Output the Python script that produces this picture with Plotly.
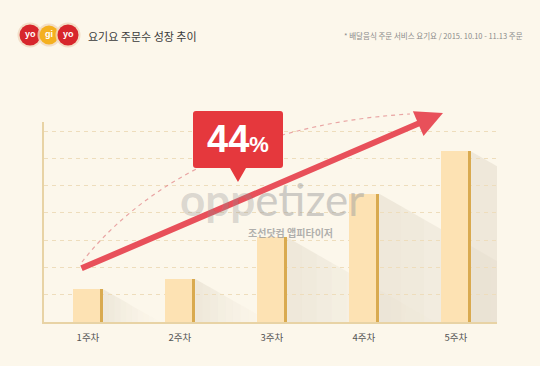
import plotly.graph_objects as go

# ---- data ----
categories = ["1주차", "2주차", "3주차", "4주차", "5주차"]
orders = [1.2, 1.58, 3.1, 4.7, 6.25]
growth_label = "44"
title_text = "요기요 주문수 성장 추이"
source_text = "* 배달음식 주문 서비스 요기요 / 2015. 10.10 - 11.13 주문"

W, H = 540, 366
BG = "#FCF7EB"
KR = "Noto Sans CJK KR"

def P(px, py):
    return px / W, 1 - py / H

xs = list(range(len(categories)))
bar_w = 0.33
edge_w = 0.035

fig = go.Figure()
fig.add_trace(go.Bar(x=xs, y=orders, width=bar_w, marker=dict(color="#FDE2B3", line=dict(width=0)),
                     hoverinfo="skip", showlegend=False))
fig.add_trace(go.Bar(x=[x + bar_w / 2 - edge_w / 2 for x in xs], y=orders, width=edge_w,
                     marker=dict(color="#D9AA50", line=dict(width=0)), hoverinfo="skip", showlegend=False))

shapes = []
# bar shadows (derived from data values), faded in slices
N = 10
for x, v in zip(xs, orders):
    xr = x + bar_w / 2
    L = v * 0.52
    for k in range(N):
        xa = xr + L * k / N
        xb = xr + L * (k + 1) / N
        ya = v * (1 - k / N)
        yb = v * (1 - (k + 1) / N)
        op = 0.24 * (1 - k / N) ** 1.8 + 0.015
        shapes.append(dict(type="path", xref="x", yref="y", layer="below",
                           path=f"M {xa},{ya} L {xa},0 L {xb},0 L {xb},{yb} Z",
                           fillcolor=f"rgba(200,188,168,{op:.3f})", line=dict(width=0)))

def path_px(cmds):
    out = []
    for c in cmds:
        if isinstance(c, str):
            out.append(c)
        else:
            px, py = P(*c)
            out.append(f"{px:.5f},{py:.5f}")
    return " ".join(out)

# dashed arc
shapes.append(dict(type="path", xref="paper", yref="paper", layer="above",
                   path=path_px(["M", (82, 262), "C", (130, 200), (230, 125), (410, 114)]),
                   line=dict(color="rgba(222,120,125,0.65)", width=1.2, dash="4px,4px")))
# callout box
r = 3
x0, y0, x1, y1 = 193, 111, 283, 168
shapes.append(dict(type="path", xref="paper", yref="paper", layer="above",
                   path=path_px(["M", (x0 + r, y0), "L", (x1 - r, y0), "Q", (x1, y0), (x1, y0 + r),
                                 "L", (x1, y1 - r), "Q", (x1, y1), (x1 - r, y1),
                                 "L", (246, y1), "L", (238, 182), "L", (230, y1),
                                 "L", (x0 + r, y1), "Q", (x0, y1), (x0, y1 - r),
                                 "L", (x0, y0 + r), "Q", (x0, y0), (x0 + r, y0), "Z"]),
                   fillcolor="#E5383D", line=dict(width=0)))
# logo circles
for cx, rr, col in [(30, 10.5, "#D7262C"), (49, 9.5, "#F4B020"), (68, 10.5, "#D7262C")]:
    for extra, c in [(2, "rgba(240,215,190,0.8)"), (0, col)]:
        a0, b0 = P(cx - rr - extra, 35 - rr - extra)
        a1, b1 = P(cx + rr + extra, 35 + rr + extra)
        shapes.append(dict(type="circle", xref="paper", yref="paper", x0=a0, x1=a1, y0=b1, y1=b0,
                           fillcolor=c, line=dict(width=0), layer="above"))

ann = []
def A(text, px, py, size, color, xanchor="center", family=KR, **kw):
    x, y = P(px, py)
    ann.append(dict(text=text, x=x, y=y, xref="paper", yref="paper", showarrow=False,
                    xanchor=xanchor, yanchor="middle", font=dict(size=size, color=color, family=family), **kw))

# arrow
tx, ty = P(443, 113)
ann.append(dict(x=tx, y=ty, xref="paper", yref="paper", ax=80 - 443, ay=269 - 113, text="",
                showarrow=True, arrowhead=2, arrowsize=0.9, arrowwidth=6, arrowcolor="#E8505A", standoff=0))

A(title_text, 86, 36, 11, "#3A3A3A", xanchor="left")
A(source_text, 525, 35, 7.5, "#8A8A8A", xanchor="right")
for cx, t in [(30, "yo"), (49, "gi"), (68, "yo")]:
    A(f"<b>{t}</b>", cx, 34, 9, "white", family="Liberation Sans")
A(f"<b>{growth_label}<span style='font-size:22px'>%</span></b>", 238, 139, 38, "white", family="Liberation Sans")
A("<b><span style='color:rgba(140,140,140,0.6)'>opp</span></b>etizer", 178, 199, 44,
  "rgba(160,160,160,0.5)", xanchor="left", family="Lato")
A("<b>조선닷컴 앱피타이저</b>", 246, 232, 10, "rgba(150,150,150,0.75)", xanchor="left")

fig.update_layout(
    width=W, height=H, margin=dict(l=0, r=0, t=0, b=0),
    paper_bgcolor=BG, plot_bgcolor=BG, barmode="overlay", bargap=0,
    shapes=shapes, annotations=ann,
    xaxis=dict(domain=[44 / W, 497 / W], range=[-0.478, 4.446], tickvals=xs, ticktext=categories,
               showgrid=False, zeroline=False, showline=True, linecolor="#E8D3A5", linewidth=1.5,
               ticks="", ticklabelstandoff=6, tickfont=dict(size=9.5, color="#555555", family=KR)),
    yaxis=dict(domain=[44 / H, 244 / H], range=[0, 7.33], dtick=1, showticklabels=False,
               showgrid=True, gridcolor="#EEDDBC", griddash="4px,4px", gridwidth=1,
               zeroline=False, showline=True, linecolor="#E8D3A5", linewidth=1.5, ticks=""),
)

fig.write_html("out.html", config={"displayModeBar": False},
               post_script="document.body.style.margin='0';document.body.style.overflow='hidden';")
